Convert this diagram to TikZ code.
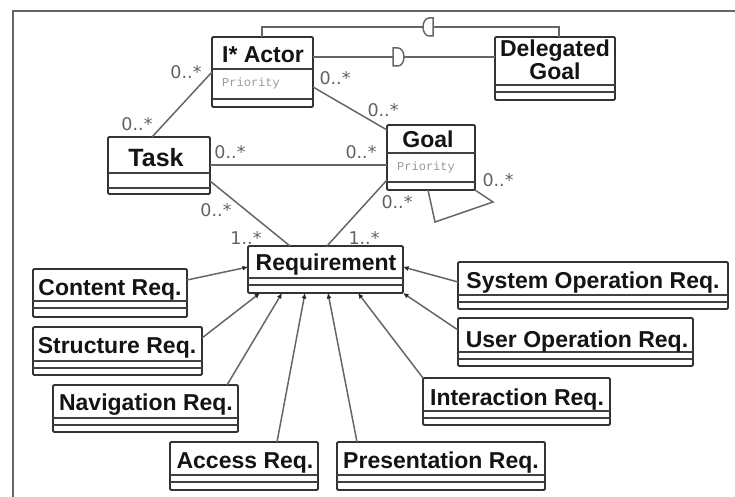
\documentclass[tikz,border=0pt]{standalone}
\usepackage{fontspec}
\usetikzlibrary{calc,arrows.meta}
\newfontfamily\clsfont{Liberation Sans}
\newfontfamily\multfont{DejaVu Sans}
\newfontfamily\attrfont{Liberation Mono}
\newcommand\umlbox[6]{%
  \path (#2,#3) node[cls, minimum width={(#4)-(#2)}, minimum height={(#5)-(#3)}] (#1) {};
  \foreach \dy in {#6} {\draw[clsdiv] (#1.west |- 0,\dy) -- (#1.east |- 0,\dy);}
}
\begin{document}
\begin{tikzpicture}[x=1pt,y=-1pt,
  cls/.style={draw=black!80, line width=1.9pt, rounded corners=1.2pt, fill=white, inner sep=0pt, outer sep=0pt, anchor=north west},
  clsdiv/.style={draw=black!75, line width=1.6pt},
  conn/.style={draw=black!60, line width=1.5pt},
  gen/.style={conn, -{Latex[length=5.5pt,width=5pt,color=black!85]}},
  ttl/.style={font=\clsfont\bfseries\fontsize{23}{23}\selectfont, text=black!92, inner sep=0pt, align=center, anchor=base},
  attr/.style={font=\attrfont\fontsize{12}{12}\selectfont, text=black!40, inner sep=0pt, anchor=base west},
  mult/.style={font=\multfont\fontsize{17.5}{17.5}\selectfont, text=black!62, inner sep=0pt},
  dep/.style={conn, fill=white}]
\useasboundingbox (0,0) rectangle (735,497);
\draw[draw=black!60, line width=1.8pt] (13,497) -- (13,11) -- (735,11);

% classes
\umlbox{actor}{212}{37}{313}{107}{69,99}
\umlbox{dg}{495}{37}{615}{100}{85,92}
\umlbox{task}{108}{137}{210}{194}{173,188}
\umlbox{goal}{387}{125}{475}{190}{153,182}
\umlbox{req}{248}{246}{403}{293}{278,285}
\umlbox{content}{33}{269}{187}{317}{301,308}
\umlbox{structure}{33}{327}{202}{375}{361,368}
\umlbox{nav}{53}{385}{238}{432}{418,425}
\umlbox{access}{170}{442}{318}{490}{475,482}
\umlbox{pres}{337}{442}{545}{490}{475,482}
\umlbox{inter}{423}{378}{610}{425}{411,418}
\umlbox{userop}{458}{318}{693}{366}{352,359}
\umlbox{sysop}{458}{262}{728}{309}{295,302}

% titles
\node[ttl] (actor-t) at (263,63) {I* Actor};
\node[attr] (actor-a) at (222,87) {Priority};
\node[ttl] (dg-t) at (555,57) {Delegated};
\node[ttl] (dg-t2) at (555,80) {Goal};
\node[ttl, font=\clsfont\bfseries\fontsize{25}{25}\selectfont] (task-t) at (156,166) {Task};
\node[ttl] (goal-t) at (428,147) {Goal};
\node[attr] (goal-a) at (397,170) {Priority};
\node[ttl] (req-t) at (326,270) {Requirement};
\node[ttl] (content-t) at (110,295) {Content Req.};
\node[ttl] (structure-t) at (117,353) {Structure Req.};
\node[ttl] (nav-t) at (146,410) {Navigation Req.};
\node[ttl] (access-t) at (245,468) {Access Req.};
\node[ttl] (pres-t) at (441,468) {Presentation Req.};
\node[ttl] (inter-t) at (517,405) {Interaction Req.};
\node[ttl] (userop-t) at (577,347) {User Operation Req.};
\node[ttl] (sysop-t) at (593,288) {System Operation Req.};

% associations
\draw[conn] ($(actor.north west)+(0,35)$) -- ($(task.north west)+(44,0)$);
\draw[conn] ($(actor.north east)+(0,50)$) -- ($(goal.north west)+(0,5)$);
\draw[conn] ($(task.north east)+(0,28)$) -- ($(goal.north west)+(0,40)$);
\draw[conn] ($(task.north east)+(0,44)$) -- ($(req.north west)+(42,0)$);
\draw[conn] ($(goal.north west)+(0,55)$) -- ($(req.north west)+(79,0)$);
\draw[conn] ($(goal.south west)+(41,0)$) -- ++(7,32) -- ++(58,-20) -- (goal.south east);

% dependencies
\draw[conn] ($(actor.north west)+(50,0)$) -- ++(0,-10) -| ($(dg.north west)+(64,0)$);
\draw[conn] ($(actor.north east)+(0,20)$) -- ($(dg.north west)+(0,20)$);
\draw[dep] (433,18) -- (433,36) -- (429,36) arc[start angle=90, end angle=270, x radius=6, y radius=9] -- cycle;
\draw[dep] (393,48) -- (393,66) -- (398,66) arc[start angle=90, end angle=-90, x radius=6, y radius=9] -- cycle;

% generalizations
\draw[gen] ($(content.north east)+(0,11)$) -- ($(req.north west)+(0,21)$);
\draw[gen] ($(structure.north east)+(0,11)$) -- ($(req.south west)+(12,0)$);
\draw[gen] ($(nav.north west)+(174,0)$) -- ($(req.south west)+(34,0)$);
\draw[gen] ($(access.north west)+(107,0)$) -- ($(req.south west)+(57,0)$);
\draw[gen] ($(pres.north west)+(20,0)$) -- ($(req.south west)+(80,0)$);
\draw[gen] (inter.north west) -- ($(req.south west)+(110,0)$);
\draw[gen] ($(userop.north west)+(0,12)$) -- (req.south east);
\draw[gen] ($(sysop.north west)+(0,20)$) -- ($(req.north east)+(0,21)$);

% multiplicities
\node[mult] (m1) at (186,72) {0..*};
\node[mult] (m2) at (137,124) {0..*};
\node[mult] (m3) at (335,78) {0..*};
\node[mult] (m4) at (383,110) {0..*};
\node[mult] (m5) at (230,152) {0..*};
\node[mult] (m6) at (361,152) {0..*};
\node[mult] (m7) at (216,210) {0..*};
\node[mult] (m8) at (246,238) {1..*};
\node[mult] (m9) at (397,202) {0..*};
\node[mult] (m10) at (364,238) {1..*};
\node[mult] (m11) at (498,180) {0..*};
\end{tikzpicture}
\end{document}
